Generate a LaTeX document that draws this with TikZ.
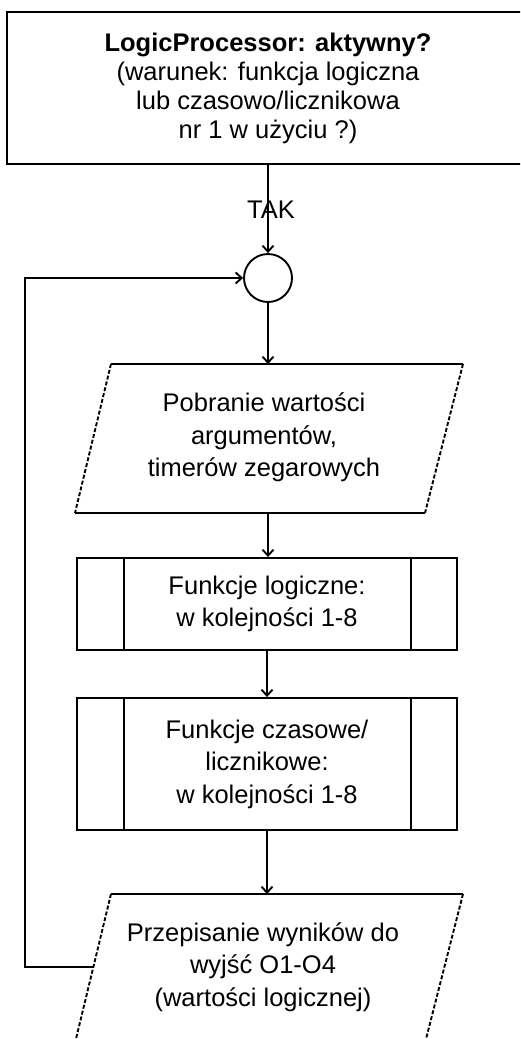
\documentclass[tikz,border=0pt]{standalone}
\usepackage{fontspec}
\setmainfont{Liberation Sans}
\usetikzlibrary{arrows.meta,calc,positioning}

\begin{document}
\begin{tikzpicture}[x=1pt,y=-1pt,line width=1.9pt,
  every node/.style={font=\fontsize{25.5}{32.5}\selectfont,align=center},
  flow/.style={-{Straight Barb[length=6pt,width=11pt]}},
  iodash/.style={dash pattern=on 4pt off 2pt},
  procbox/.style={draw,minimum width=380pt,minimum height=#1,inner sep=0pt}]
  \useasboundingbox (0,0) rectangle (520,1039);
  \clip (0,0) rectangle (520,1039);
  % decision at the top, right edge runs off the page
  \node[draw,minimum width=522pt,minimum height=152pt,
        font=\fontsize{25.5}{29}\selectfont] (aktywny) at (268,88)
    {\textbf{LogicProcessor: aktywny?}\\(warunek: funkcja logiczna\\lub czasowo/licznikowa\\nr 1 w użyciu ?)};
  \node[draw,circle,minimum size=48pt,inner sep=0pt] (junc) at (268,278) {};
  \draw[flow] (aktywny.south) -- (junc.north);
  \node (tak) at (271,210) {TAK};
  % input: reading the arguments
  \coordinate (pobrTL) at (111,364);
  \coordinate (pobrTR) at (463,364);
  \coordinate (pobrBR) at (425,513);
  \coordinate (pobrBL) at (75,513);
  \draw (pobrTL) -- (pobrTR);
  \draw (pobrBL) -- (pobrBR);
  \draw[iodash] (pobrTL) -- (pobrBL);
  \draw[iodash] (pobrTR) -- (pobrBR);
  \node (pobranie) at (264,437.5) {Pobranie wartości\\argumentów,\\timerów zegarowych};
  \coordinate (pobrIn) at (268,364);
  \coordinate (pobrOut) at (268,513);
  \draw[flow] (junc.south) -- (pobrIn);
  % predefined processes
  \node[procbox=92pt] (flog) at (267,604) {Funkcje logiczne:\\w kolejności 1-8};
  \draw ([xshift=48pt]flog.north west) -- ([xshift=48pt]flog.south west);
  \draw ([xshift=-47pt]flog.north east) -- ([xshift=-47pt]flog.south east);
  \node[procbox=132pt] (fczas) at (267,764) {Funkcje czasowe/\\licznikowe:\\w kolejności 1-8};
  \draw ([xshift=48pt]fczas.north west) -- ([xshift=48pt]fczas.south west);
  \draw ([xshift=-47pt]fczas.north east) -- ([xshift=-47pt]fczas.south east);
  \draw[flow] (pobrOut) -- (pobrOut |- flog.north);
  \draw[flow] (flog.south) -- (fczas.north);
  % output: writing the results
  \coordinate (wyjTL) at (111,894);
  \coordinate (wyjTR) at (463,894);
  \coordinate (wyjBR) at (425,1043);
  \coordinate (wyjBL) at (75,1043);
  \draw (wyjTL) -- (wyjTR);
  \draw (wyjBL) -- (wyjBR);
  \draw[iodash] (wyjTL) -- (wyjBL);
  \draw[iodash] (wyjTR) -- (wyjBR);
  \node (przepis) at (263,967) {Przepisanie wyników do\\wyjść O1-O4\\(wartości logicznej)};
  \coordinate (wyjIn) at (fczas.south |- wyjTL);
  \draw[flow] (fczas.south) -- (wyjIn);
  % back to the junction
  \coordinate (wyjL) at ($(wyjTL)!0.49!(wyjBL)$);
  \coordinate (petla) at (25,967);
  \draw[flow] (wyjL) -- (petla) |- (junc.west);
\end{tikzpicture}
\end{document}
